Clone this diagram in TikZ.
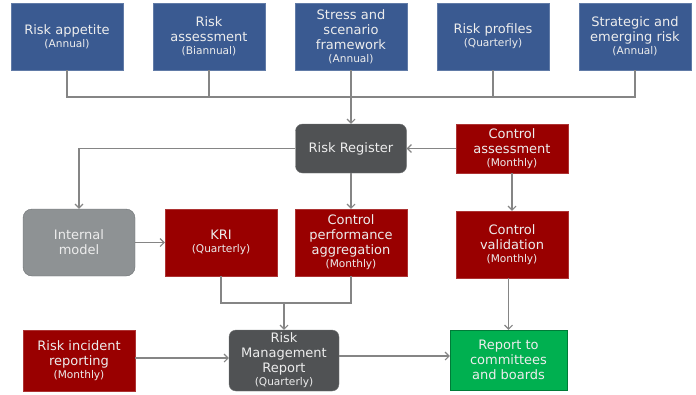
\documentclass[tikz,border=0pt]{standalone}
\usepackage{fontspec}
\setmainfont{DejaVu Sans}
\usetikzlibrary{arrows.meta}
\definecolor{cblue}{HTML}{3A5A91}
\definecolor{cred}{HTML}{990000}
\definecolor{cdark}{HTML}{505254}
\definecolor{cgrey}{HTML}{8E9294}
\definecolor{cgreyb}{HTML}{6E7274}
\definecolor{cgreen}{HTML}{00B050}
\definecolor{cline}{HTML}{858585}
\definecolor{ctext}{HTML}{EDEDED}
\newcommand{\sub}[1]{\\[-2pt]{\fontsize{10.6}{12}\selectfont #1}}
\tikzset{
  box/.style={minimum width=112pt, minimum height=67pt, align=center, text=ctext,
    font=\fontsize{13}{15}\selectfont, inner sep=1pt},
  bluebox/.style={box, fill=cblue, draw=cblue!80!white},
  redbox/.style={box, fill=cred, draw=cred!80!white},
  darkbox/.style={box, fill=cdark, draw=cdark!80!white, rounded corners=7pt},
  greybox/.style={box, fill=cgrey, draw=cgreyb, rounded corners=9pt},
  greenbox/.style={box, fill=cgreen, draw=cgreen!70!black},
  conn/.style={draw=cline, line width=1.1pt},
  arr/.style={conn, -{Straight Barb[length=4pt,width=8pt]}}
}
\begin{document}
\begin{tikzpicture}[x=1pt,y=-1pt]
\useasboundingbox (0,0) rectangle (696,394);
% top row
\node[bluebox] (ra) at (67,36.5) {Risk appetite\sub{(Annual)}};
\node[bluebox] (rs) at (209,36.5) {Risk\\assessment\sub{(Biannual)}};
\node[bluebox] (ss) at (351,36.5) {Stress and\\scenario\\framework\sub{(Annual)}};
\node[bluebox] (rp) at (493,36.5) {Risk profiles\sub{(Quarterly)}};
\node[bluebox] (se) at (635,36.5) {Strategic and\\emerging risk\sub{(Annual)}};
% middle
\node[darkbox, minimum width=111pt, minimum height=49pt] (rr) at (351,148.5) {Risk Register};
\node[redbox, minimum height=49pt] (ca) at (512,148.5) {Control\\assessment\sub{(Monthly)}};
\node[greybox] (im) at (79,242.5) {Internal\\model};
\node[redbox] (kri) at (221,242.5) {KRI\sub{(Quarterly)}};
\node[redbox] (cpa) at (351,242.5) {Control\\performance\\aggregation\sub{(Monthly)}};
\node[redbox] (cv) at (512,244.5) {Control\\validation\sub{(Monthly)}};
% bottom
\node[redbox, minimum height=61pt] (rir) at (79,360.5) {Risk incident\\reporting\sub{(Monthly)}};
\node[darkbox, minimum width=110pt, minimum height=61pt] (rmr) at (284,360.5) {Risk\\Management\\Report\sub{(Quarterly)}};
\node[greenbox, minimum width=117pt, minimum height=60pt] (rep) at (508.5,360) {Report to\\committees\\and boards};
% connectors
\coordinate (busL) at (67,97);
\coordinate (busR) at (635,97);
\draw[conn] (ra.south) |- (busR) -- (se.south);
\draw[conn] (rs.south) -- (rs.south |- busL);
\draw[conn] (rp.south) -- (rp.south |- busL);
\draw[arr] (ss.south) -- (rr.north);
\draw[arr] (ca.west) -- (rr.east);
\draw[arr] (rr.west) -| (im.north);
\draw[arr] (rr.south) -- (rr.south |- cpa.north);
\draw[arr] (ca.south) -- (ca.south |- cv.north);
\draw[arr] (im.east) -- (kri.west);
\coordinate (join) at (221,303);
\draw[conn] (kri.south) |- (cpa.south |- join) -- (cpa.south);
\draw[arr] (rmr.north |- join) -- (rmr.north);
\draw[arr] (rir.east |- 0,358) -- (rmr.west |- 0,358);
\draw[arr] (rmr.east |- 0,356) -- (rep.west |- 0,356);
\draw[arr] (cv.south -| rep.north) -- (rep.north);
\end{tikzpicture}
\end{document}
